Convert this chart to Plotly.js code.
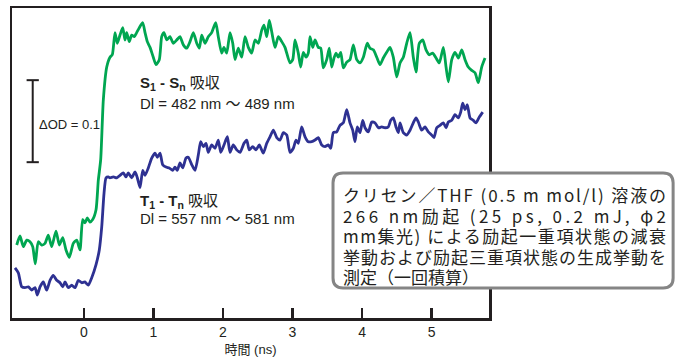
<!DOCTYPE html>
<html>
<head>
<meta charset="utf-8">
<script src="https://cdn.plot.ly/plotly-3.0.1.min.js"></script>
<style>
  html, body { margin: 0; padding: 0; background: #fff; }
  #chart { width: 676px; height: 360px; }
</style>
</head>
<body>
<div id="chart"></div>
<script>
// ---- Data (time in ns, absorbance change in ΔOD) ----
const s1Time = [-0.968,-0.921,-0.873,-0.824,-0.777,-0.738,-0.701,-0.658,-0.609,-0.561,-0.514,-0.465,-0.403,-0.355,-0.306,-0.259,-0.212,-0.154,-0.105,-0.058,
  -0.019,0.014,0.047,0.086,0.125,0.173,0.206,0.240,0.278,0.327,0.374,0.407,0.446,0.479,0.518,0.557,0.590,0.614,0.652,0.686,
  0.724,0.758,0.796,0.845,0.878,0.911,0.950,0.997,1.036,1.083,1.118,1.151,1.190,1.237,1.285,1.334,1.381,1.429,1.478,1.525,
  1.573,1.622,1.659,1.694,1.741,1.788,1.837,1.895,1.932,1.981,2.014,2.053,2.101,2.140,2.173,2.220,2.269,2.317,2.364,2.413,
  2.460,2.508,2.557,2.590,2.629,2.666,2.701,2.748,2.796,2.845,2.892,2.964,3.003,3.036,3.083,3.118,3.155,3.194,3.227,3.252,
  3.291,3.324,3.371,3.406,3.443,3.492,3.529,3.564,3.597,3.626,3.659,3.694,3.731,3.780,3.827,3.875,3.924,3.971,4.019,4.076,
  4.115,4.163,4.212,4.259,4.306,4.355,4.403,4.450,4.499,4.547,4.594,4.643,4.691,4.738,4.777,4.824,4.873,4.921,4.968,5.017,
  5.065,5.112,5.170,5.209,5.242,5.291,5.338,5.386,5.435,5.482,5.529,5.578,5.626,5.673,5.722,5.770];
const s1Signal = [0.089,0.100,0.087,0.095,0.093,0.087,0.066,0.093,0.089,0.091,0.101,0.087,0.106,0.089,0.098,0.083,0.074,0.091,0.095,0.083,
  0.120,0.116,0.122,0.117,0.120,0.132,0.168,0.193,0.266,0.306,0.318,0.321,0.348,0.335,0.345,0.354,0.339,0.348,0.337,0.345,
  0.343,0.348,0.354,0.360,0.348,0.337,0.330,0.318,0.309,0.315,0.343,0.348,0.339,0.343,0.335,0.339,0.343,0.333,0.329,0.337,
  0.348,0.335,0.329,0.345,0.335,0.343,0.348,0.360,0.343,0.323,0.330,0.323,0.348,0.335,0.315,0.329,0.318,0.343,0.330,0.323,
  0.339,0.335,0.351,0.357,0.343,0.363,0.349,0.330,0.343,0.337,0.330,0.311,0.315,0.339,0.323,0.306,0.324,0.318,0.323,0.343,
  0.330,0.339,0.330,0.329,0.305,0.315,0.329,0.306,0.317,0.323,0.318,0.324,0.305,0.312,0.315,0.333,0.315,0.311,0.318,0.335,
  0.329,0.327,0.318,0.309,0.317,0.324,0.330,0.318,0.294,0.311,0.318,0.335,0.348,0.318,0.300,0.335,0.339,0.327,0.321,0.323,
  0.317,0.311,0.330,0.306,0.288,0.315,0.324,0.317,0.327,0.315,0.306,0.302,0.299,0.287,0.306,0.317];

const t1Time = [-0.993,-0.945,-0.896,-0.849,-0.801,-0.753,-0.705,-0.672,-0.633,-0.586,-0.537,-0.489,-0.442,-0.393,-0.345,-0.306,-0.273,-0.226,-0.177,-0.129,
  -0.082,-0.033,0.014,0.062,0.111,0.173,0.220,0.255,0.288,0.317,0.350,0.374,0.422,0.471,0.518,0.565,0.604,0.637,0.686,0.734,
  0.767,0.806,0.845,0.878,0.925,0.974,1.022,1.055,1.094,1.132,1.180,1.227,1.276,1.309,1.342,1.381,1.420,1.468,1.501,1.550,
  1.597,1.645,1.679,1.717,1.755,1.788,1.837,1.885,1.932,1.967,2.014,2.062,2.101,2.148,2.197,2.245,2.302,2.341,2.378,2.427,
  2.475,2.522,2.580,2.629,2.676,2.724,2.773,2.820,2.868,2.917,2.964,3.012,3.050,3.083,3.132,3.180,3.227,3.276,3.324,3.371,
  3.420,3.468,3.515,3.550,3.587,3.636,3.683,3.731,3.780,3.827,3.866,3.899,3.932,3.971,4.010,4.043,4.091,4.140,4.187,4.235,
  4.283,4.331,4.378,4.413,4.450,4.489,4.522,4.547,4.594,4.643,4.691,4.738,4.777,4.810,4.859,4.906,4.954,5.003,5.036,5.075,
  5.122,5.170,5.209,5.242,5.291,5.338,5.386,5.420,5.449,5.482,5.515,5.554,5.601,5.640,5.688,5.737];
const t1Signal = [0.061,0.055,0.038,0.037,0.038,0.034,0.037,0.028,0.038,0.044,0.034,0.046,0.052,0.046,0.043,0.038,0.044,0.037,0.040,0.037,
  0.046,0.043,0.044,0.040,0.049,0.065,0.083,0.111,0.152,0.171,0.172,0.171,0.172,0.171,0.174,0.177,0.172,0.177,0.171,0.178,
  0.171,0.159,0.180,0.174,0.183,0.195,0.201,0.196,0.201,0.187,0.184,0.183,0.180,0.184,0.180,0.189,0.183,0.195,0.196,0.187,
  0.180,0.199,0.215,0.209,0.213,0.202,0.211,0.207,0.217,0.202,0.211,0.221,0.202,0.211,0.205,0.202,0.213,0.217,0.205,0.209,
  0.205,0.211,0.201,0.213,0.221,0.229,0.220,0.217,0.226,0.223,0.202,0.207,0.217,0.213,0.233,0.221,0.215,0.215,0.217,0.220,
  0.211,0.209,0.211,0.207,0.226,0.227,0.235,0.238,0.254,0.238,0.229,0.215,0.233,0.226,0.241,0.232,0.227,0.239,0.238,0.232,
  0.233,0.232,0.233,0.241,0.244,0.233,0.226,0.238,0.226,0.223,0.229,0.238,0.244,0.239,0.229,0.233,0.227,0.223,0.220,0.232,
  0.235,0.238,0.232,0.239,0.241,0.248,0.244,0.251,0.262,0.254,0.260,0.244,0.241,0.238,0.245,0.251];

const tickValues = [0, 1, 2, 3, 4, 5];
const tickLabels = ['0', '1', '2', '3', '4', '5'];
const xAxisTitle = '時間 (ns)';
const s1Label = '<b>S<sub>1</sub> - S<sub>n</sub></b> 吸収';
const s1Range = 'Dl = 482 nm ～ 489 nm';
const t1Label = '<b>T<sub>1</sub> - T<sub>n</sub></b> 吸収';
const t1Range = 'Dl = 557 nm ～ 581 nm';
const scaleLabel = 'ΔOD = 0.1';
const scaleBarOD = 0.1;
const noteLines = [
  'クリセン／THF (0.5 m mol/l) 溶液の',
  '266 nm励起 (25 ps, 0.2 mJ, φ2',
  'mm集光) による励起一重項状態の減衰',
  '挙動および励起三重項状態の生成挙動を',
  '測定（一回積算）'
];

// ---- Styling ----
const INK = '#231f20';
const GREEN = '#00a651';
const BLUE = '#2e3192';
const LATIN = '"Liberation Sans", Arial, "Noto Sans CJK JP", sans-serif';
const JP = '"Noto Sans CJK JP", sans-serif';

const traces = [
  { x: s1Time, y: s1Signal, type: 'scatter', mode: 'lines',
    line: { color: GREEN, width: 2.8, shape: 'spline', smoothing: 0.6 }, hoverinfo: 'skip' },
  { x: t1Time, y: t1Signal, type: 'scatter', mode: 'lines',
    line: { color: BLUE, width: 2.8, shape: 'spline', smoothing: 0.6 }, hoverinfo: 'skip' }
];

// scale bar location (data coords)
const barX = -0.738, barCap = 0.088, barTop = 0.290;

// rounded note box in paper coords
const bx0 = 0.673, bx1 = 1.386, by0 = 0.097, by1 = 0.468, rx = 0.021, ry = 0.032;
const boxPath = `M ${bx0+rx} ${by1} L ${bx1-rx} ${by1} Q ${bx1} ${by1} ${bx1} ${by1-ry} ` +
  `L ${bx1} ${by0+ry} Q ${bx1} ${by0} ${bx1-rx} ${by0} L ${bx0+rx} ${by0} ` +
  `Q ${bx0} ${by0} ${bx0} ${by0+ry} L ${bx0} ${by1-ry} Q ${bx0} ${by1} ${bx0+rx} ${by1} Z`;

const noteY = [0.397, 0.331, 0.265, 0.199, 0.133];
const noteAnnotations = noteLines.map((txt, i) => ({
  xref: 'paper', yref: 'paper', x: 0.689, y: noteY[i], xanchor: 'left', yanchor: 'middle',
  showarrow: false, align: 'left', text: txt, font: { family: JP, size: 17, color: INK }
}));

const layout = {
  width: 676, height: 360,
  margin: { l: 12, r: 187, t: 8, b: 42, pad: 0 },
  paper_bgcolor: '#ffffff', plot_bgcolor: '#ffffff',
  showlegend: false,
  xaxis: {
    range: [-1.036, 5.827], showgrid: false, zeroline: false,
    showline: true, mirror: true, linecolor: INK, linewidth: 2.5,
    ticks: 'inside', ticklen: 10, tickwidth: 2.2, tickcolor: INK,
    tickvals: tickValues, ticktext: tickLabels,
    tickfont: { family: LATIN, size: 14, color: INK },
    title: { text: xAxisTitle, font: { family: LATIN, size: 13, color: INK }, standoff: 6 }
  },
  yaxis: {
    range: [0, 0.378], showgrid: false, zeroline: false,
    showline: true, mirror: true, linecolor: INK, linewidth: 2.5,
    ticks: '', showticklabels: false
  },
  shapes: [
    { type: 'line', xref: 'x', yref: 'y', x0: barX, x1: barX, y0: barTop - scaleBarOD, y1: barTop,
      line: { color: INK, width: 2 } },
    { type: 'line', xref: 'x', yref: 'y', x0: barX - barCap, x1: barX + barCap, y0: barTop, y1: barTop,
      line: { color: INK, width: 2 } },
    { type: 'line', xref: 'x', yref: 'y', x0: barX - barCap, x1: barX + barCap, y0: barTop - scaleBarOD, y1: barTop - scaleBarOD,
      line: { color: INK, width: 2 } },
    { type: 'path', xref: 'paper', yref: 'paper', path: boxPath, layer: 'above',
      fillcolor: '#ffffff', line: { color: '#858585', width: 3 } }
  ],
  annotations: [
    { xref: 'paper', yref: 'paper', x: 0.264, y: 0.755, xanchor: 'left', yanchor: 'middle', showarrow: false,
      text: s1Label, font: { family: LATIN, size: 15, color: INK } },
    { xref: 'paper', yref: 'paper', x: 0.264, y: 0.692, xanchor: 'left', yanchor: 'middle', showarrow: false,
      text: s1Range, font: { family: LATIN, size: 15, color: INK } },
    { xref: 'paper', yref: 'paper', x: 0.264, y: 0.377, xanchor: 'left', yanchor: 'middle', showarrow: false,
      text: t1Label, font: { family: LATIN, size: 15, color: INK } },
    { xref: 'paper', yref: 'paper', x: 0.264, y: 0.321, xanchor: 'left', yanchor: 'middle', showarrow: false,
      text: t1Range, font: { family: LATIN, size: 15, color: INK } },
    { xref: 'paper', yref: 'paper', x: 0.052, y: 0.623, xanchor: 'left', yanchor: 'middle', showarrow: false,
      text: scaleLabel, font: { family: LATIN, size: 13, color: INK } }
  ].concat(noteAnnotations)
};

Plotly.newPlot('chart', traces, layout, { staticPlot: true, displayModeBar: false }).then(gd => {
  // justify the first four note lines to the box's text width, as in the original print
  const justifyWidth = 323;
  [5, 6, 7, 8].forEach(idx => {
    const t = gd.querySelector(`g.annotation[data-index="${idx}"] text.annotation-text`);
    if (t) {
      t.setAttribute('textLength', justifyWidth);
      t.setAttribute('lengthAdjust', 'spacing');
    }
  });
});
</script>
</body>
</html>
